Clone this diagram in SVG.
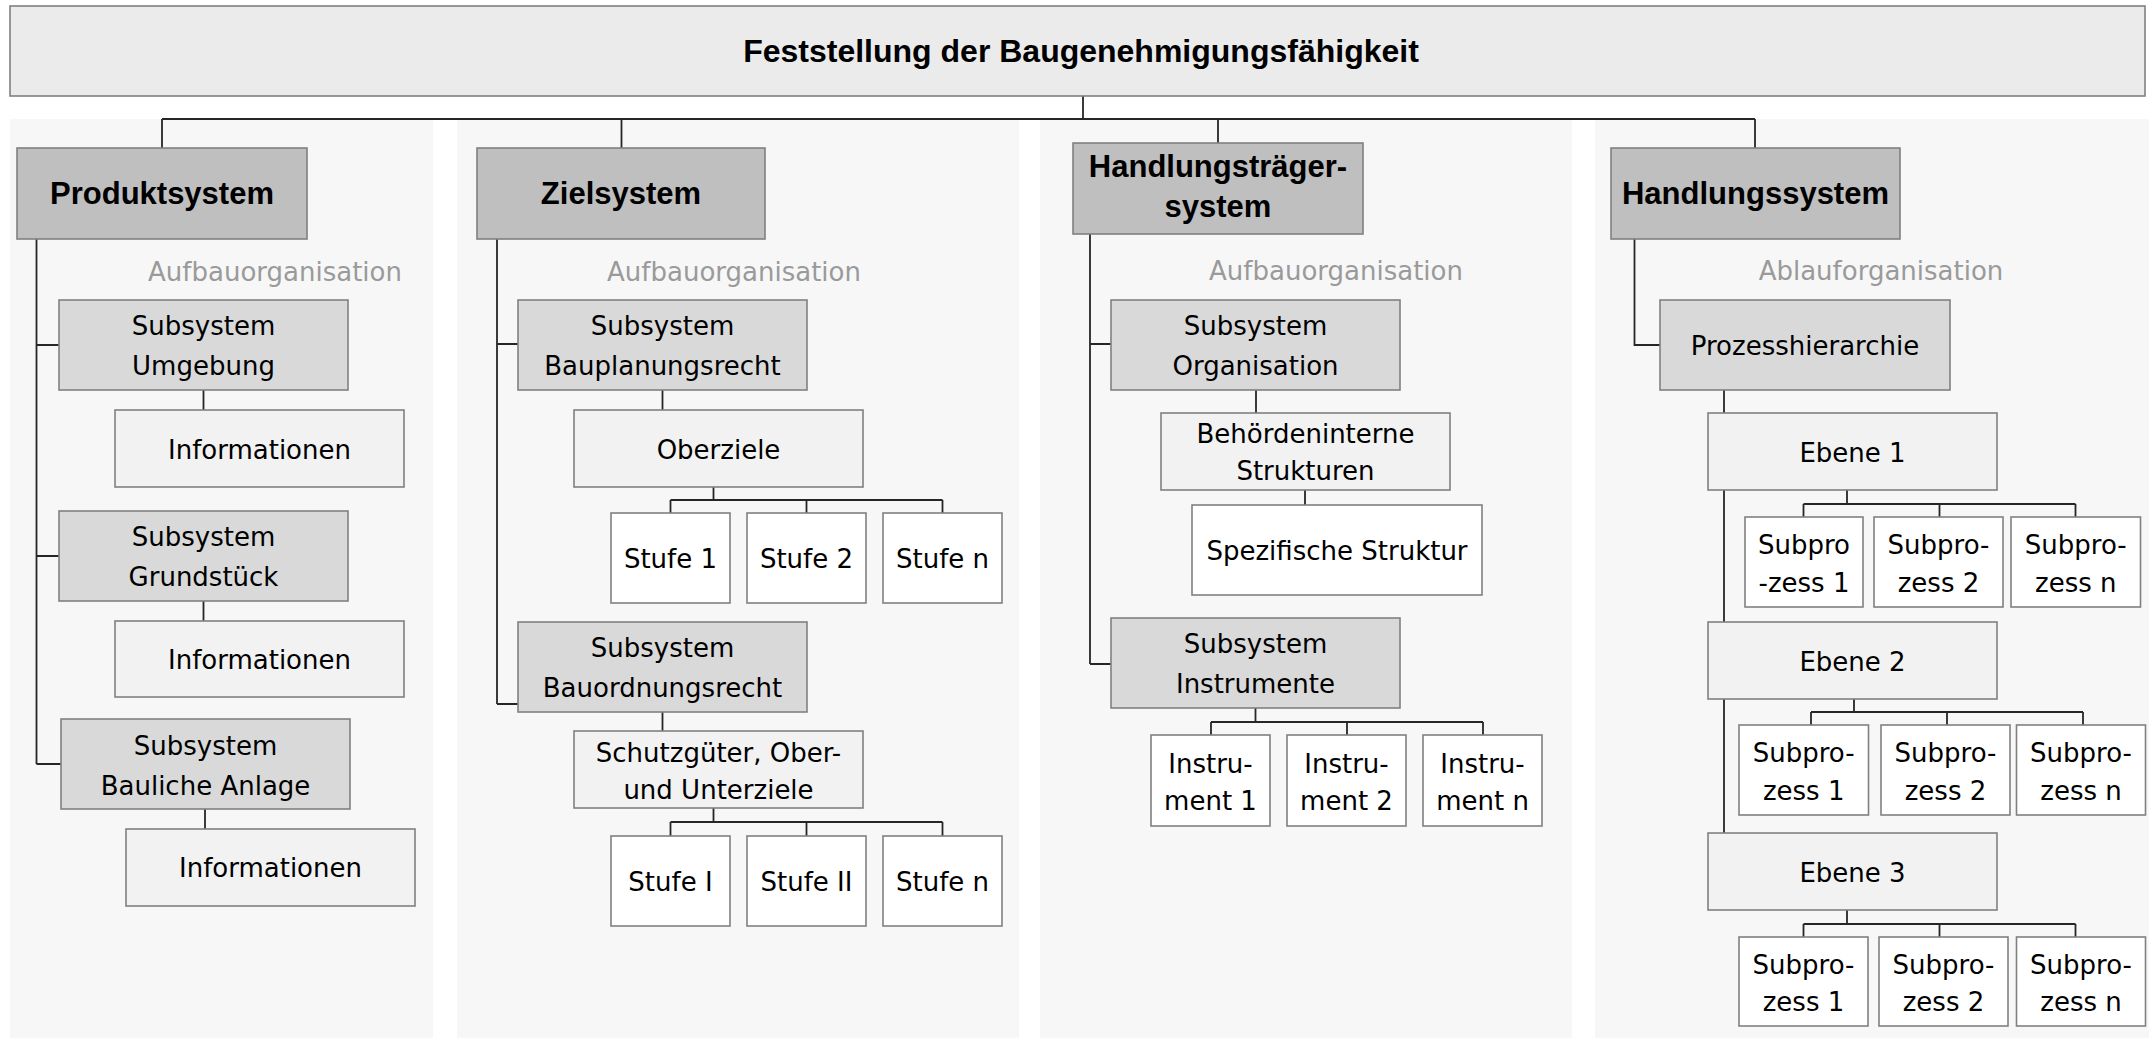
<svg xmlns="http://www.w3.org/2000/svg" width="2149" height="1038" viewBox="0 0 2149 1038">
<style>
.panel{fill:#f7f7f7;stroke:none}
.box{stroke:#808080;stroke-width:1.6}
.top{fill:#ebebeb}
.head{fill:#bfbfbf}
.sub{fill:#d9d9d9}
.info{fill:#f2f2f2}
.leaf{fill:#ffffff}
.conn{fill:none;stroke:#262626;stroke-width:1.8}
text{font-family:"DejaVu Sans","Liberation Sans",sans-serif;font-size:26px;fill:#000;text-anchor:middle}
.bold{font-family:"Liberation Sans",Arial,sans-serif;font-weight:bold;font-size:31px}
.ttl{font-size:32px}
.org{fill:#9a9a9a}
</style>
<rect width="2149" height="1038" fill="#ffffff"/>
<g id="panels">
<rect class="panel" x="10" y="119" width="423" height="919"/>
<rect class="panel" x="457" y="119" width="562" height="919"/>
<rect class="panel" x="1040" y="119" width="532" height="919"/>
<rect class="panel" x="1595" y="119" width="554" height="919"/>
</g>
<g id="connectors">
<path class="conn" d="M1083 96V119M162 119H1755M162 119V148M621.5 119V148M1218 119V143M1755 119V148"/>
<path class="conn" d="M36.5 239V764M36.5 345H59M36.5 556H59M36.5 764H61M203.5 390V410M203.5 601V621M205 809V829"/>
<path class="conn" d="M497 239V704M497 344H518M497 704H518M662.5 390V410M713.5 487V500M670.5 500H942.5M670.5 500V513M806.5 500V513M942.5 500V513M662.5 712V731M713.5 808V822M670.5 822H942.5M670.5 822V836M806.5 822V836M942.5 822V836"/>
<path class="conn" d="M1090 234V664M1090 344H1111M1090 664H1111M1256 390V413M1305 490V505M1255.5 708V722M1211 722H1483M1211 722V735M1347 722V735M1483 722V735"/>
<path class="conn" d="M1634.5 239V345H1660M1724 390V833M1847 490V504M1803.5 504H2075.5M1803.5 504V517M1939.5 504V517M2075.5 504V517M1854 699V712M1811 712H2083M1811 712V725M1947 712V725M2083 712V725M1847 910V924M1803.5 924H2075.5M1803.5 924V937M1939.5 924V937M2075.5 924V937"/>
</g>
<g id="root"><rect class="box top" x="10" y="6" width="2135" height="90"/><text class="bold ttl" x="1081" y="62">Feststellung der Baugenehmigungsfähigkeit</text></g>
<g id="produktsystem"><rect class="box head" x="17" y="148" width="290" height="91"/><text class="bold" x="162" y="204">Produktsystem</text></g>
<g id="zielsystem"><rect class="box head" x="477" y="148" width="288" height="91"/><text class="bold" x="621" y="204">Zielsystem</text></g>
<g id="handlungstraegersystem"><rect class="box head" x="1073" y="143" width="290" height="91"/><text class="bold" x="1218" y="177">Handlungsträger-</text><text class="bold" x="1218" y="217">system</text></g>
<g id="handlungssystem"><rect class="box head" x="1611" y="148" width="289" height="91"/><text class="bold" x="1755.5" y="204">Handlungssystem</text></g>
<g id="labels">
<text class="org" x="275" y="281">Aufbauorganisation</text>
<text class="org" x="734" y="281">Aufbauorganisation</text>
<text class="org" x="1336" y="280">Aufbauorganisation</text>
<text class="org" x="1881" y="280">Ablauforganisation</text>
</g>
<g id="sub-umgebung"><rect class="box sub" x="59" y="300" width="289" height="90"/><text x="203.5" y="335">Subsystem</text><text x="203.5" y="375">Umgebung</text></g>
<g id="info-1"><rect class="box info" x="115" y="410" width="289" height="77"/><text x="259.5" y="458.5">Informationen</text></g>
<g id="sub-grundstueck"><rect class="box sub" x="59" y="511" width="289" height="90"/><text x="203.5" y="546">Subsystem</text><text x="203.5" y="586">Grundstück</text></g>
<g id="info-2"><rect class="box info" x="115" y="621" width="289" height="76"/><text x="259.5" y="669">Informationen</text></g>
<g id="sub-bauliche"><rect class="box sub" x="61" y="719" width="289" height="90"/><text x="205.5" y="754.5">Subsystem</text><text x="205.5" y="795">Bauliche Anlage</text></g>
<g id="info-3"><rect class="box info" x="126" y="829" width="289" height="77"/><text x="270.5" y="877">Informationen</text></g>
<g id="sub-bauplanung"><rect class="box sub" x="518" y="300" width="289" height="90"/><text x="662.5" y="335">Subsystem</text><text x="662.5" y="375">Bauplanungsrecht</text></g>
<g id="oberziele"><rect class="box info" x="574" y="410" width="289" height="77"/><text x="718.5" y="458.5">Oberziele</text></g>
<g id="stufe-1"><rect class="box leaf" x="611" y="513" width="119" height="90"/><text x="670.5" y="568">Stufe 1</text></g>
<g id="stufe-2"><rect class="box leaf" x="747" y="513" width="119" height="90"/><text x="806.5" y="568">Stufe 2</text></g>
<g id="stufe-n-a"><rect class="box leaf" x="883" y="513" width="119" height="90"/><text x="942.5" y="568">Stufe n</text></g>
<g id="sub-bauordnung"><rect class="box sub" x="518" y="622" width="289" height="90"/><text x="662.5" y="657">Subsystem</text><text x="662.5" y="697">Bauordnungsrecht</text></g>
<g id="schutzgueter"><rect class="box info" x="574" y="731" width="289" height="77"/><text x="718.5" y="761.5">Schutzgüter, Ober-</text><text x="718.5" y="799">und Unterziele</text></g>
<g id="stufe-I"><rect class="box leaf" x="611" y="836" width="119" height="90"/><text x="670.5" y="891">Stufe I</text></g>
<g id="stufe-II"><rect class="box leaf" x="747" y="836" width="119" height="90"/><text x="806.5" y="891">Stufe II</text></g>
<g id="stufe-n-b"><rect class="box leaf" x="883" y="836" width="119" height="90"/><text x="942.5" y="891">Stufe n</text></g>
<g id="sub-organisation"><rect class="box sub" x="1111" y="300" width="289" height="90"/><text x="1255.5" y="335">Subsystem</text><text x="1255.5" y="375">Organisation</text></g>
<g id="behoerden"><rect class="box info" x="1161" y="413" width="289" height="77"/><text x="1305.5" y="442.5">Behördeninterne</text><text x="1305.5" y="480">Strukturen</text></g>
<g id="spezifisch"><rect class="box leaf" x="1192" y="505" width="290" height="90"/><text x="1337" y="560">Spezifische Struktur</text></g>
<g id="sub-instrumente"><rect class="box sub" x="1111" y="618" width="289" height="90"/><text x="1255.5" y="653">Subsystem</text><text x="1255.5" y="693">Instrumente</text></g>
<g id="instrument-1"><rect class="box leaf" x="1151" y="735" width="119" height="91"/><text x="1210.5" y="772.5">Instru-</text><text x="1210.5" y="809.5">ment 1</text></g>
<g id="instrument-2"><rect class="box leaf" x="1287" y="735" width="119" height="91"/><text x="1346.5" y="772.5">Instru-</text><text x="1346.5" y="809.5">ment 2</text></g>
<g id="instrument-n"><rect class="box leaf" x="1423" y="735" width="119" height="91"/><text x="1482.5" y="772.5">Instru-</text><text x="1482.5" y="809.5">ment n</text></g>
<g id="prozesshierarchie"><rect class="box sub" x="1660" y="300" width="290" height="90"/><text x="1805" y="355">Prozesshierarchie</text></g>
<g id="ebene-1"><rect class="box info" x="1708" y="413" width="289" height="77"/><text x="1852.5" y="461.5">Ebene 1</text></g>
<g id="e1-sp1"><rect class="box leaf" x="1745" y="517" width="118" height="90"/><text x="1804" y="554">Subpro</text><text x="1804" y="591.5">-zess 1</text></g>
<g id="e1-sp2"><rect class="box leaf" x="1874" y="517" width="129" height="90"/><text x="1938.5" y="554">Subpro-</text><text x="1938.5" y="591.5">zess 2</text></g>
<g id="e1-spn"><rect class="box leaf" x="2011" y="517" width="129.5" height="90"/><text x="2075.8" y="554">Subpro-</text><text x="2075.8" y="591.5">zess n</text></g>
<g id="ebene-2"><rect class="box info" x="1708" y="622" width="289" height="77"/><text x="1852.5" y="670.5">Ebene 2</text></g>
<g id="e2-sp1"><rect class="box leaf" x="1739" y="725" width="129.5" height="90"/><text x="1803.7" y="762">Subpro-</text><text x="1803.7" y="799.5">zess 1</text></g>
<g id="e2-sp2"><rect class="box leaf" x="1881" y="725" width="129" height="90"/><text x="1945.5" y="762">Subpro-</text><text x="1945.5" y="799.5">zess 2</text></g>
<g id="e2-spn"><rect class="box leaf" x="2016.5" y="725" width="129" height="90"/><text x="2081" y="762">Subpro-</text><text x="2081" y="799.5">zess n</text></g>
<g id="ebene-3"><rect class="box info" x="1708" y="833" width="289" height="77"/><text x="1852.5" y="881.5">Ebene 3</text></g>
<g id="e3-sp1"><rect class="box leaf" x="1739" y="937" width="129" height="89"/><text x="1803.5" y="974">Subpro-</text><text x="1803.5" y="1011">zess 1</text></g>
<g id="e3-sp2"><rect class="box leaf" x="1879" y="937" width="129" height="89"/><text x="1943.5" y="974">Subpro-</text><text x="1943.5" y="1011">zess 2</text></g>
<g id="e3-spn"><rect class="box leaf" x="2016.5" y="937" width="129" height="89"/><text x="2081" y="974">Subpro-</text><text x="2081" y="1011">zess n</text></g>
</svg>
